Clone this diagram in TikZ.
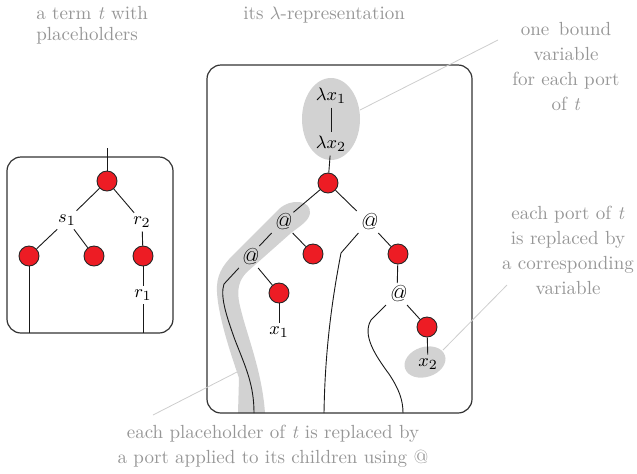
\documentclass[tikz,border=0pt]{standalone}
\usetikzlibrary{positioning}
\definecolor{nodered}{RGB}{237,28,36}
\definecolor{notegray}{RGB}{150,150,150}
\definecolor{linegray}{RGB}{205,205,205}
\definecolor{blobgray}{RGB}{210,210,210}

\tikzset{
  opnode/.style={circle, draw=black!85, fill=nodered, minimum size=10pt,
                 inner sep=0pt, line width=0.45pt},
  lbl/.style={inner sep=1.8pt, font=\fontsize{9.5}{11}\selectfont},
  app/.style={inner sep=1.2pt, font=\fontsize{11.5}{12}\selectfont\itshape},
  note/.style={text=notegray, align=center, inner sep=0pt,
               font=\fontsize{9.5}{12.5}\selectfont},
  pointer/.style={draw=linegray, line width=0.4pt},
  frame/.style={draw=black!80, line width=0.6pt, rounded corners=7pt},
  edge/.style={draw=black!90, line width=0.45pt},
}

\begin{document}
\begin{tikzpicture}[x=0.5pt, y=-0.5pt]
  \useasboundingbox (0,0) rectangle (637,473);

  % captions
  \node[note, align=left, anchor=west,
        font=\fontsize{9.5}{10.5}\selectfont] (captl) at (36,25)
        {a term \textit{t} with\\placeholders};
  \node[note, anchor=west] (captr) at (243,15) {its $\lambda$-representation};
  \node[note] (boundnote) at (566,67)
        {one\, bound\\variable\\for each port\\of \textit{t}};
  \node[note] (portnote) at (568,250)
        {each port of \textit{t}\\is replaced by\\a corresponding\\variable};
  \node[note] (holenote) at (273,446)
        {each placeholder of \textit{t} is replaced by\\a port applied to its children using @};

  % grey highlights
  \fill[blobgray] (331,119) ellipse [x radius=14.5pt, y radius=20.5pt];
  \fill[blobgray, rotate around={18:(425,362)}] (425,362)
        ellipse [x radius=10.5pt, y radius=7.5pt];
  \fill[blobgray] (238,413) -- (239,378)
    .. controls (230,352) and (218,315) .. (217,292)
    .. controls (216,276) and (222,266) .. (233,255)
    -- (279,209) .. controls (291,198) and (311,200) .. (310,213)
    .. controls (309,221) and (300,226) .. (291,233)
    -- (247,272) .. controls (239,280) and (236,290) .. (240,306)
    .. controls (246,333) and (262,370) .. (265,413) -- cycle;

  % frames
  \draw[frame] (7,157) rectangle (173,333);
  \draw[frame] (207,65) rectangle (472,413);

  % the term t
  \node[opnode] (troot) at (107,181) {};
  \node[lbl] (s1) at (67,220) {$s_1$};
  \node[lbl] (r2) at (142,222) {$r_2$};
  \node[opnode] (ta) at (29,256) {};
  \node[opnode] (tb) at (94,256) {};
  \node[opnode] (tc) at (143,256) {};
  \node[lbl] (r1) at (143,295) {$r_1$};
  \coordinate (ttop) at (107,148);
  \coordinate (tpa) at (29,333);
  \coordinate (tpb) at (143,333);

  \draw[edge] (ttop) -- (troot);
  \draw[edge] (troot) -- (s1);
  \draw[edge] (troot) -- (r2);
  \draw[edge] (s1) -- (ta);
  \draw[edge] (s1) -- (tb);
  \draw[edge] (r2) -- (tc);
  \draw[edge] (tc) -- (r1);
  \draw[edge] (r1) -- (tpb);
  \draw[edge] (ta) -- (tpa);

  % its lambda-representation
  \node[lbl] (lx1) at (331,96) {$\lambda x_1$};
  \node[lbl] (lx2) at (331,144) {$\lambda x_2$};
  \node[opnode] (root) at (328,183) {};
  \node[app] (atL) at (282,222) {@};
  \node[app] (atR) at (368,222) {@};
  \node[opnode] (nL) at (313,254) {};
  \node[opnode] (nR) at (398,254) {};
  \node[app] (atLL) at (249,257) {@};
  \node[opnode] (nx1) at (279,293) {};
  \node[lbl] (x1) at (279,332) {$x_1$};
  \node[app] (atRR) at (397,294) {@};
  \node[opnode] (nx2) at (427,327) {};
  \node[lbl] (x2) at (428,364) {$x_2$};
  \coordinate (pa) at (254,413);
  \coordinate (pb) at (324,413);
  \coordinate (pc) at (403,413);

  \draw[edge] (lx1) -- (lx2);
  \draw[edge] (lx2) -- (root);
  \draw[edge] (root) -- (atL);
  \draw[edge] (root) -- (atR);
  \draw[edge] (atL) -- (nL);
  \draw[edge] (atL) -- (atLL);
  \draw[edge] (atR) -- (nR);
  \draw[edge] (atLL) -- (nx1);
  \draw[edge] (nx1) -- (x1);
  \draw[edge] (nR) -- (atRR);
  \draw[edge] (atRR) -- (nx2);
  \draw[edge] (nx2) -- (x2);
  % ports
  \draw[edge] (atLL) -- (224,284)
    .. controls (220,296) and (226,315) .. (235,340)
    .. controls (246,368) and (254,385) .. (pa);
  \draw[edge] (atR) -- (341,253)
    .. controls (332,300) and (325,350) .. (pb);
  \draw[edge] (atRR) -- (371,320)
    .. controls (362,335) and (375,355) .. (389,374)
    .. controls (399,389) and (403,400) .. (pc);

  % pointers to the notes
  \coordinate (bnd) at (360,110);
  \coordinate (bndend) at (498,40);
  \coordinate (prt) at (443,350);
  \coordinate (prtend) at (507,285);
  \coordinate (hol) at (237,372);
  \coordinate (holend) at (153,415);
  \draw[pointer] (bnd) -- (bndend);
  \draw[pointer] (prt) -- (prtend);
  \draw[pointer] (hol) -- (holend);
\end{tikzpicture}
\end{document}
